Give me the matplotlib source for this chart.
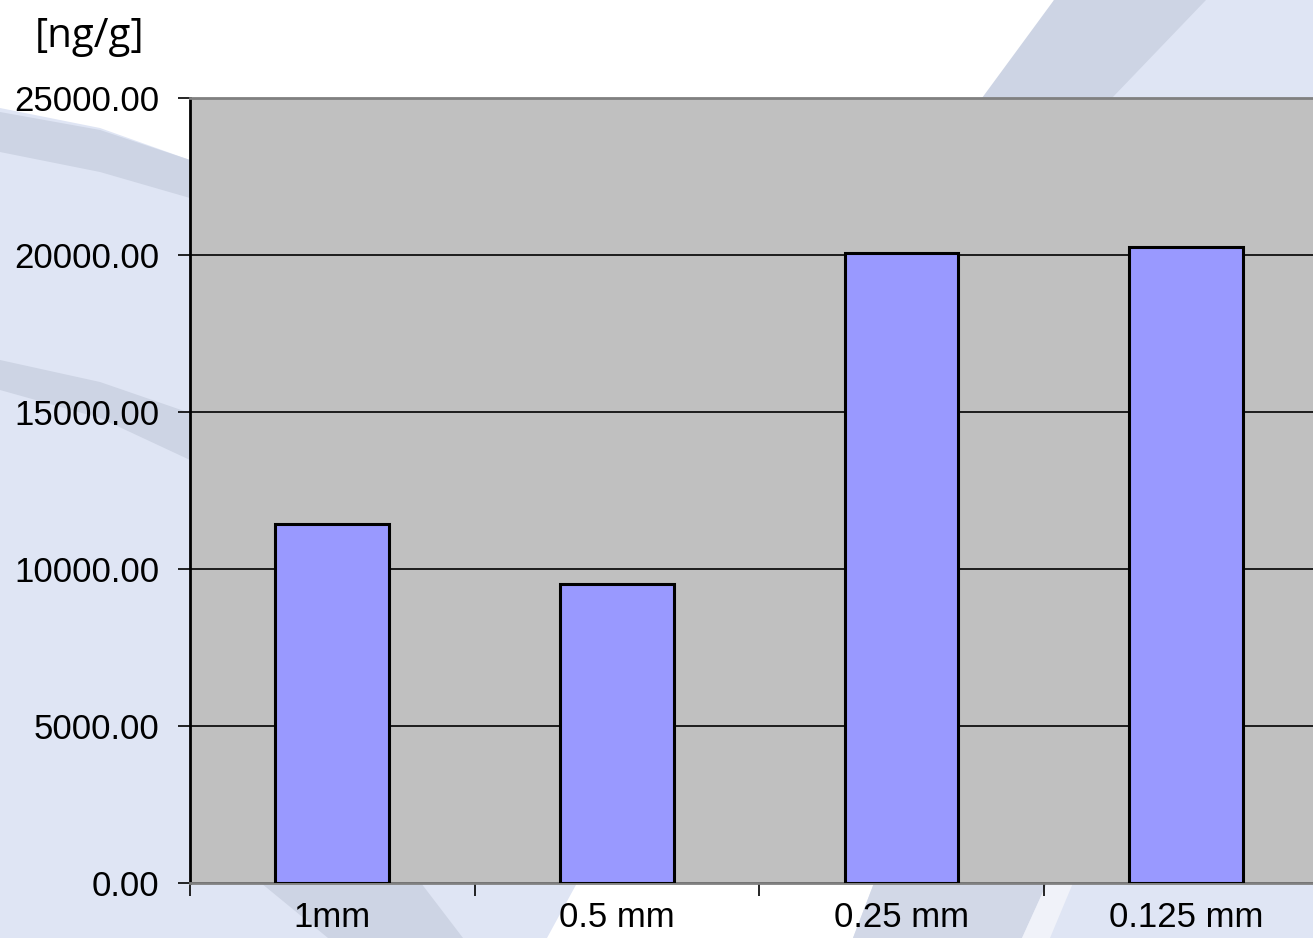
import matplotlib
matplotlib.use('Agg')
import matplotlib.pyplot as plt
from matplotlib.patches import Polygon
from matplotlib.ticker import FixedLocator, FormatStrFormatter

# data
categories = ['1mm', '0.5 mm', '0.25 mm', '0.125 mm']
values = [11420, 9500, 20050, 20250]
yticks = [0, 5000, 10000, 15000, 20000, 25000]

W, H = 1313, 938
fig = plt.figure(figsize=(W / 100, H / 100), dpi=100)
fig.patch.set_facecolor('#DFE5F4')

DARK = '#CDD4E4'
WHITE = '#FFFFFF'


def bg(points, color):
    # decorative background shapes, given in image pixel coords (y down)
    pts = [(x / W, 1 - y / H) for x, y in points]
    fig.add_artist(Polygon(pts, closed=True, transform=fig.transFigure,
                           facecolor=color, edgecolor='none', zorder=-5))


# top white area
bg([(0, 0), (1054, 0), (900, 320), (190, 160), (100, 128), (0, 108)], WHITE)
# top-right swoosh
bg([(1054, 0), (1206, 0), (1112, 98), (982, 98)], DARK)
# left bands
bg([(0, 112), (100, 130), (190, 160), (190, 198), (100, 172), (0, 152)], DARK)
bg([(0, 360), (100, 382), (190, 413), (190, 460), (100, 418), (0, 390)], DARK)
# bottom strip shapes
bg([(261, 883), (421, 883), (463, 938), (328, 938)], DARK)
bg([(577, 883), (874, 883), (853, 938), (547, 938)], WHITE)
bg([(874, 883), (1047, 883), (1022, 938), (853, 938)], '#D2D8E7')
bg([(1047, 883), (1073, 883), (1050, 938), (1022, 938)], '#F0F2F9')

cw = 284.6
ax = fig.add_axes([190 / W, (H - 882.5) / H, 4 * cw / W, 784.8 / H])
ax.set_facecolor('#C0C0C0')

x = range(len(categories))
ax.bar(x, values, width=0.4, color='#9999FF', edgecolor='black',
       linewidth=2.2, zorder=3)

ax.set_xlim(-0.5, 3.5)
ax.set_ylim(0, 25000)
ax.set_yticks(yticks)
ax.yaxis.set_major_formatter(FormatStrFormatter('%.2f'))
ax.grid(axis='y', color='black', linewidth=1.2, zorder=1)
ax.set_axisbelow(True)

ax.set_xticks(list(x))
ax.set_xticklabels(categories)
ax.xaxis.set_minor_locator(FixedLocator([-0.5, 0.5, 1.5, 2.5, 3.5]))
ax.tick_params(axis='x', which='major', length=0, pad=13)
ax.tick_params(axis='x', which='minor', length=9, width=1.2,
               direction='out', color='black')
ax.tick_params(axis='y', length=9, width=1.2, direction='out', pad=13)

for lab in ax.get_xticklabels() + ax.get_yticklabels():
    lab.set_fontfamily('Liberation Sans')
    lab.set_fontsize(25)

ax.spines['left'].set_color('black')
ax.spines['left'].set_linewidth(2)
ax.spines['top'].set_color('#808080')
ax.spines['top'].set_linewidth(2)
ax.spines['bottom'].set_color('#808080')
ax.spines['bottom'].set_linewidth(2)
ax.spines['right'].set_visible(False)

fig.text(35 / W, 1 - 37 / H, '[ng/g]', fontsize=29, family='Open Sans',
         va='center', ha='left', color='black')

fig.savefig('out.png', dpi=100)
